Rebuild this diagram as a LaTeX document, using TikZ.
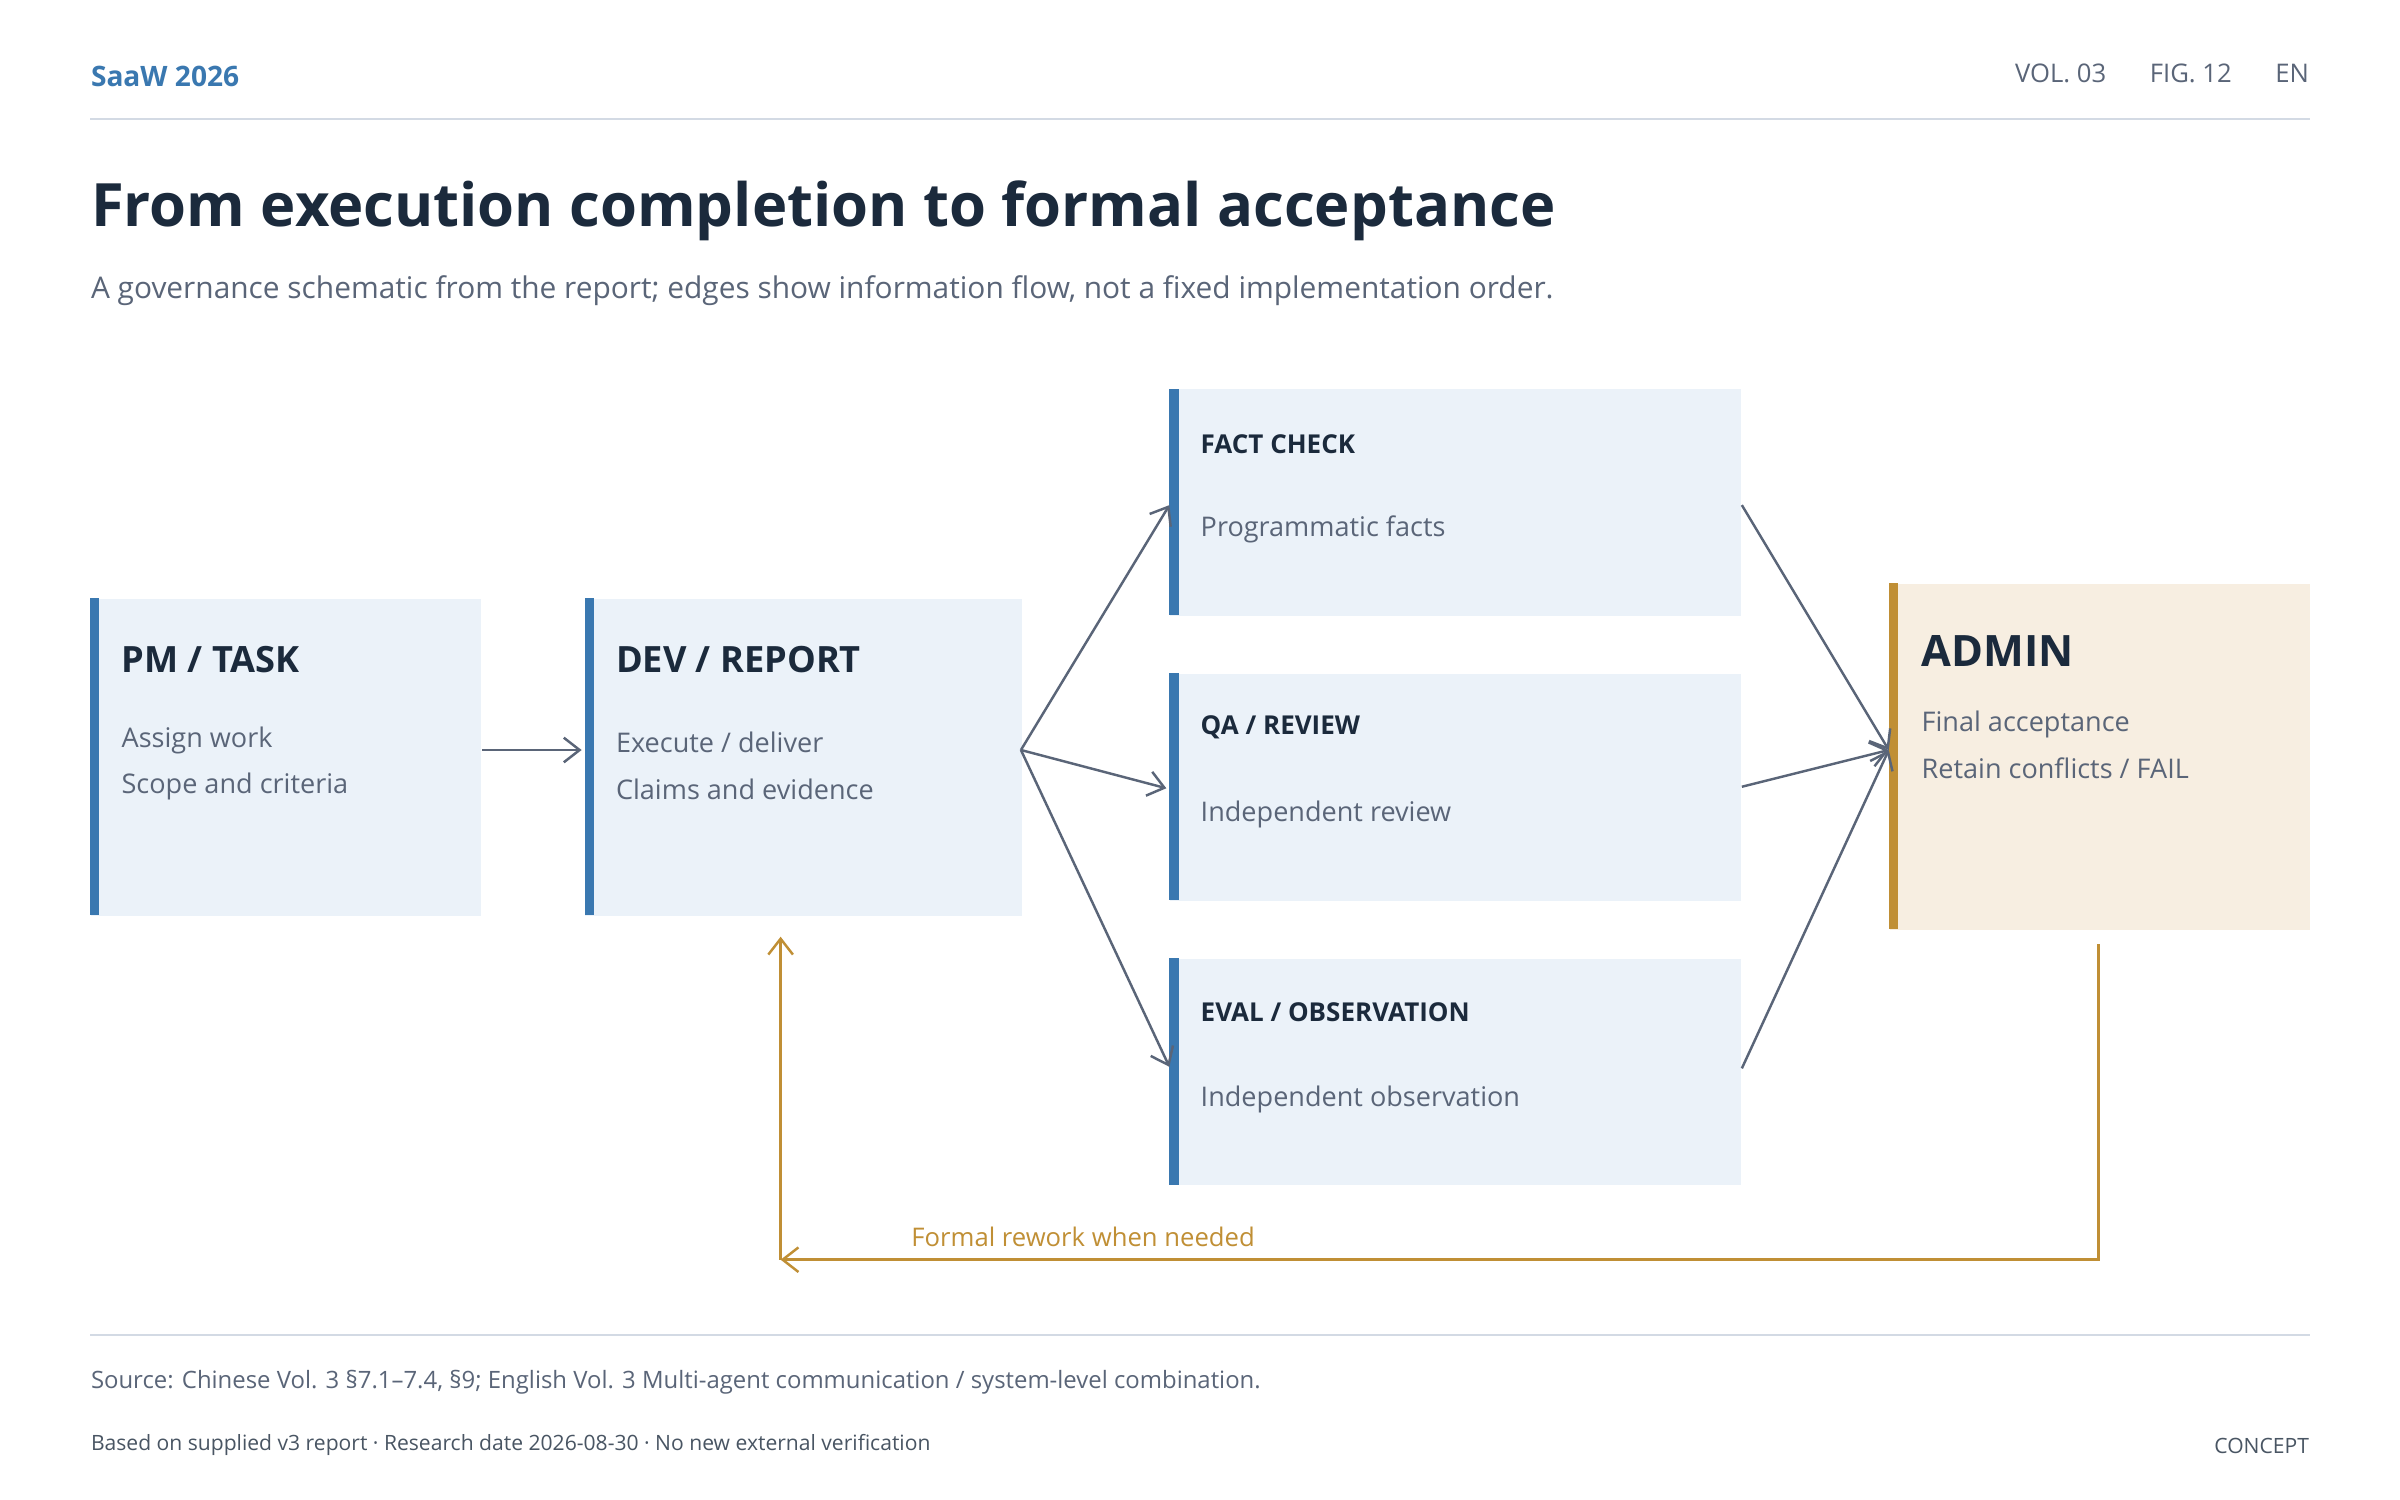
\documentclass[tikz,border=0pt]{standalone}
\usepackage{fontspec}
\setmainfont{Open Sans}
\usetikzlibrary{arrows.meta,positioning}
\definecolor{ink}{HTML}{1B2A3C}
\definecolor{mute}{HTML}{5A6578}
\definecolor{accent}{HTML}{3A78B0}
\definecolor{boxfill}{HTML}{EBF2F9}
\definecolor{gold}{HTML}{C08F35}
\definecolor{cream}{HTML}{F7EEE1}
\definecolor{rule}{HTML}{D3DAE4}
\tikzset{stage/.style={fill=boxfill,draw=none,anchor=north west,inner sep=0pt},
  bar/.style={fill=accent,draw=none},
  head/.style={anchor=west,inner sep=0pt,text=ink,font=\bfseries\fontsize{10.3pt}{12pt}\selectfont},
  small/.style={anchor=west,inner sep=0pt,text=ink,font=\bfseries\fontsize{7.4pt}{9pt}\selectfont},
  body/.style={anchor=west,inner sep=0pt,text=mute,font=\fontsize{7.7pt}{9pt}\selectfont},
  flow/.style={draw=mute,line width=0.7pt,-{Straight Barb[length=4.5pt,width=7pt]}},
  rework/.style={draw=gold,line width=0.7pt,-{Straight Barb[length=4.5pt,width=7pt]}}}

\begin{document}
\begin{tikzpicture}[x=0.01530cm,y=-0.01530cm]
        \useasboundingbox[fill=white] (0,0) rectangle (1568,980);
        % header
        \node[anchor=west,inner sep=0pt,text=accent,font=\bfseries\fontsize{8pt}{10pt}\selectfont] (brand) at (59,50) {SaaW 2026};
        \node[anchor=east,inner sep=0pt,text=mute,font=\fontsize{7.3pt}{9pt}\selectfont] (meta) at (1509,48) {VOL. 03\hspace{1.7em}FIG. 12\hspace{1.7em}EN};
        \draw[rule,line width=0.6pt] (59,78) -- (1509,78);
        \node[anchor=west,inner sep=0pt,text=ink,font=\bfseries\fontsize{17pt}{20pt}\selectfont] (title) at (59,138) {From execution completion to formal acceptance};
        \node[anchor=west,inner sep=0pt,text=mute,font=\fontsize{8.5pt}{10pt}\selectfont] (sub) at (59,190) {A governance schematic from the report; edges show information flow, not a fixed implementation order.};

        % boxes
        \node[stage,minimum width=255*0.0153cm,minimum height=207*0.0153cm] (pm) at (59,391) {};
        \node[stage,minimum width=285*0.0153cm,minimum height=207*0.0153cm] (dev) at (382,391) {};
        \node[stage,minimum width=373*0.0153cm,minimum height=148*0.0153cm] (fact) at (764,254) {};
        \node[stage,minimum width=373*0.0153cm,minimum height=148*0.0153cm] (qa) at (764,440) {};
        \node[stage,minimum width=373*0.0153cm,minimum height=148*0.0153cm] (eval) at (764,626) {};
        \node[stage,fill=cream,minimum width=275*0.0153cm,minimum height=226*0.0153cm] (admin) at (1234,381) {};
        \fill[accent] (59,391) rectangle (65,598);
        \fill[accent] (382,391) rectangle (388,598);
        \fill[accent] (764,254) rectangle (770,402);
        \fill[accent] (764,440) rectangle (770,588);
        \fill[accent] (764,626) rectangle (770,774);
        \fill[gold] (1234,381) rectangle (1240,607);

        % texts
        \node[head] (pmh) at (79,431) {PM / TASK};
        \node[body] (pm1) at (79,484) {Assign work};
        \node[body] (pm2) at (79,514) {Scope and criteria};
        \node[head] (devh) at (402,431) {DEV / REPORT};
        \node[body] (dev1) at (402,485) {Execute / deliver};
        \node[body] (dev2) at (402,516) {Claims and evidence};
        \node[small] (facth) at (784,290) {FACT CHECK};
        \node[body] (fact1) at (784,346) {Programmatic facts};
        \node[small] (qah) at (784,475) {QA / REVIEW};
        \node[body] (qa1) at (784,532) {Independent review};
        \node[small] (evalh) at (784,661) {EVAL / OBSERVATION};
        \node[body] (eval1) at (784,718) {Independent observation};
        \node[head,font=\bfseries\fontsize{12.3pt}{14pt}\selectfont] (adminh) at (1255,425) {ADMIN};
        \node[body] (admin1) at (1255,473) {Final acceptance};
        \node[body] (admin2) at (1255,502) {Retain conflicts / FAIL};

        % flow
        \coordinate (devout) at (667,490);
        \coordinate (adminin) at (1234,490);
        \draw[flow] (pm.east |- devout) -- (380,490);
        \draw[flow] (devout) -- (764,330);
        \draw[flow] (devout) -- (762,515);
        \draw[flow] (devout) -- (764,697);
        \draw[flow] (1138,330) -- (adminin);
        \draw[flow] (1138,514) -- (adminin);
        \draw[flow] (1138,698) -- (adminin);

        % rework loop
        \coordinate (rwstart) at (1371,617);
        \coordinate (rwcorner) at (510,823);
        \coordinate (rwend) at (510,612);
        \draw[rework] (rwstart) |- (rwcorner);
        \draw[rework] (rwcorner) -- (rwend);
        \node[anchor=west,inner sep=0pt,text=gold,font=\fontsize{7.3pt}{9pt}\selectfont] (rwlabel) at (595,808) {Formal rework when needed};

        % footer
        \draw[rule,line width=0.6pt] (59,872) -- (1509,872);
        \node[anchor=west,inner sep=0pt,text=mute,font=\fontsize{6.8pt}{8pt}\selectfont] (source) at (59,903) {Source: Chinese Vol. 3 §7.1–7.4, §9; English Vol. 3 Multi-agent communication / system-level combination.};
        \node[anchor=west,inner sep=0pt,text=ink!80,font=\fontsize{6pt}{7pt}\selectfont] (note) at (59,944) {Based on supplied v3 report · Research date 2026-08-30 · No new external verification};
        \node[anchor=east,inner sep=0pt,text=ink!80,font=\fontsize{6pt}{7pt}\selectfont] (tag) at (1509,945) {CONCEPT};
\end{tikzpicture}
\end{document}
